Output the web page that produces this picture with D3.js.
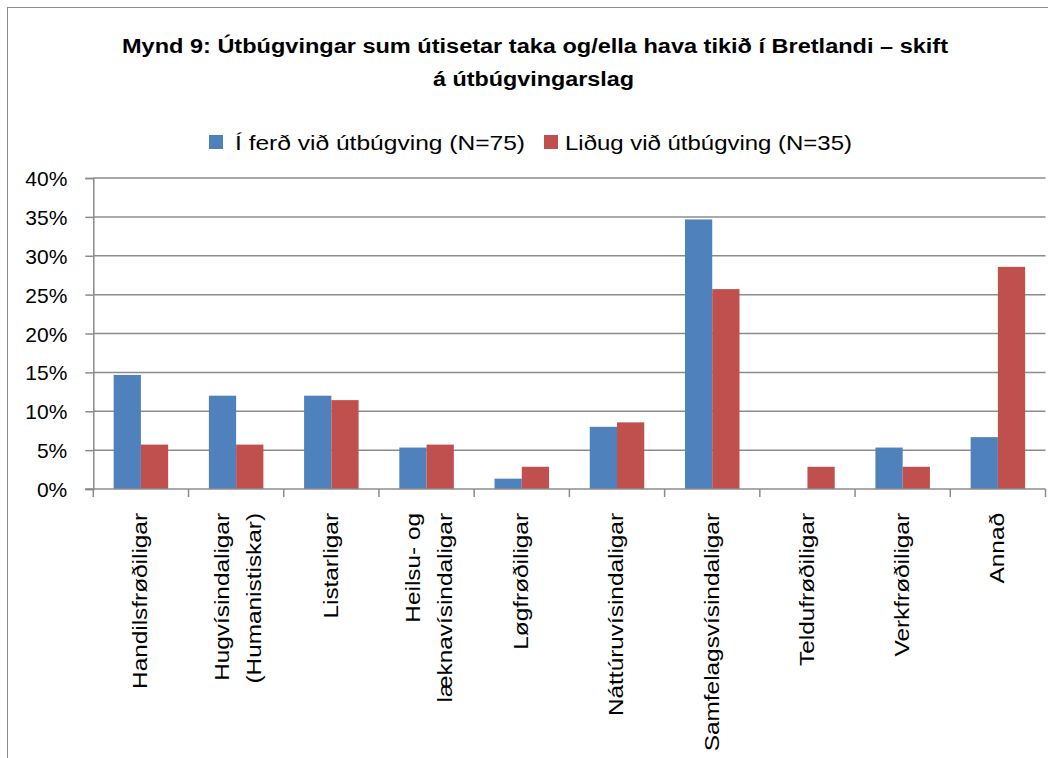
<!DOCTYPE html>
<html>
<head>
<meta charset="utf-8">
<script src="https://cdn.jsdelivr.net/npm/d3@7"></script>
<style>
  html, body { margin: 0; padding: 0; background: #fff; }
  svg { display: block; }
  text { font-family: "Liberation Sans", Arial, sans-serif; fill: #000; }
</style>
</head>
<body>
<svg id="chart" width="1048" height="758"></svg>
<script>
// ---- data ----
const titleLines = ["Mynd 9: Útbúgvingar sum útisetar taka og/ella hava tikið í Bretlandi – skift", "á útbúgvingarslag"];
const seriesNames = ["Í ferð við útbúgving (N=75)", "Liðug við útbúgving (N=35)"];
const seriesColors = ["#4F81BD", "#C0504D"];
const categories = [
  "Handilsfrøðiligar",
  "Hugvísindaligar\n(Humanistiskar)",
  "Listarligar",
  "Heilsu- og\nlæknavísindaligar",
  "Løgfrøðiligar",
  "Náttúruvísindaligar",
  "Samfelagsvísindaligar",
  "Teldufrøðiligar",
  "Verkfrøðiligar",
  "Annað"
];
const seriesInProgress = [14.67, 12.00, 12.00, 5.33, 1.33, 8.00, 34.67, 0, 5.33, 6.67];
const seriesCompleted  = [5.71, 5.71, 11.43, 5.71, 2.86, 8.57, 25.71, 2.86, 2.86, 28.57];
const yTicks = [0, 5, 10, 15, 20, 25, 30, 35, 40];

// ---- layout ----
const svg = d3.select("#chart");
const plot = { left: 93.3, right: 1045.5, top: 178, bottom: 489 };

// chart border
svg.append("rect").attr("x", 7.5).attr("y", 7.5).attr("width", 1200).attr("height", 900)
  .attr("fill", "#fff").attr("stroke", "#8c8c8c").attr("stroke-width", 1);

function fitText(sel, targetW) {
  sel.each(function () {
    const w = this.getComputedTextLength();
    if (Math.abs(w - targetW) > 1) {
      d3.select(this).attr("textLength", targetW).attr("lengthAdjust", "spacingAndGlyphs");
    }
  });
}

// title
const titleSpec = [{ cx: 535, y: 53, w: 826 }, { cx: 533.5, y: 86, w: 201 }];
titleLines.forEach((t, i) => {
  const s = svg.append("text").attr("x", titleSpec[i].cx).attr("y", titleSpec[i].y)
    .attr("text-anchor", "middle").attr("font-size", 20).attr("font-weight", "bold").text(t);
  fitText(s, titleSpec[i].w);
});

// legend
const legSpec = [{ sx: 209, tx: 235, w: 290 }, { sx: 544, tx: 565, w: 287 }];
seriesNames.forEach((n, i) => {
  svg.append("rect").attr("x", legSpec[i].sx).attr("y", 135).attr("width", 14).attr("height", 14)
    .attr("fill", seriesColors[i]);
  const s = svg.append("text").attr("x", legSpec[i].tx).attr("y", 150).attr("font-size", 21).text(n);
  fitText(s, legSpec[i].w);
});

// scales
const x0 = d3.scaleBand().domain(categories).range([plot.left, plot.right]).paddingInner(0).paddingOuter(0);
const x1 = d3.scaleBand().domain([0, 1]).range([0, x0.bandwidth()]).paddingInner(0).paddingOuter(0.747);
const y = d3.scaleLinear().domain([0, 40]).range([plot.bottom, plot.top]);

// gridlines
svg.append("g").selectAll("line").data(yTicks.filter(d => d > 0)).join("line")
  .attr("x1", plot.left).attr("x2", plot.right)
  .attr("y1", d => y(d)).attr("y2", d => y(d))
  .attr("stroke", "#8c8c8c").attr("stroke-width", 1.5);

// bars
const data = categories.map((c, i) => ({ c, v: [seriesInProgress[i], seriesCompleted[i]] }));
const groups = svg.append("g").selectAll("g").data(data).join("g")
  .attr("transform", d => `translate(${x0(d.c)},0)`);
groups.selectAll("rect").data(d => d.v.map((v, k) => ({ v, k }))).join("rect")
  .attr("x", d => x1(d.k)).attr("width", x1.bandwidth())
  .attr("y", d => y(d.v)).attr("height", d => y(0) - y(d.v))
  .attr("fill", d => seriesColors[d.k]);

// y axis
const yAxis = d3.axisLeft(y).tickValues(yTicks).tickFormat(d => d + "%").tickSize(8).tickPadding(18);
const ya = svg.append("g").attr("transform", `translate(${plot.left},0)`).call(yAxis);
ya.select(".domain").attr("stroke", "#8c8c8c").attr("stroke-width", 1.5);
ya.selectAll(".tick line").attr("stroke", "#8c8c8c").attr("stroke-width", 1.5);
ya.selectAll(".tick text").attr("font-size", 21).attr("font-family", "Liberation Sans, Arial, sans-serif")
  .attr("fill", "#000").attr("x", -26).attr("dy", "0.36em");

// x axis line + ticks at band boundaries
svg.append("line").attr("x1", plot.left - 8).attr("x2", plot.right)
  .attr("y1", plot.bottom).attr("y2", plot.bottom).attr("stroke", "#8c8c8c").attr("stroke-width", 1.5);
const boundaries = categories.map(c => x0(c)).concat([plot.right]);
svg.append("g").selectAll("line").data(boundaries).join("line")
  .attr("x1", d => d).attr("x2", d => d).attr("y1", plot.bottom).attr("y2", plot.bottom + 8)
  .attr("stroke", "#8c8c8c").attr("stroke-width", 1.5);

// x labels (rotated)
const labelTop = 513, stretch = 1.16, lineGap = 32;
categories.forEach(c => {
  const lines = c.split("\n");
  const cx = x0(c) + x0.bandwidth() / 2;
  lines.forEach((ln, i) => {
    const off = (i - (lines.length - 1) / 2) * lineGap + (lines.length > 1 ? 9 : 6.4);
    svg.append("text")
      .attr("transform", `translate(${cx + off},${labelTop}) rotate(-90) scale(${stretch},1)`)
      .attr("text-anchor", "end").attr("font-size", 21).text(ln);
  });
});
</script>
</body>
</html>
